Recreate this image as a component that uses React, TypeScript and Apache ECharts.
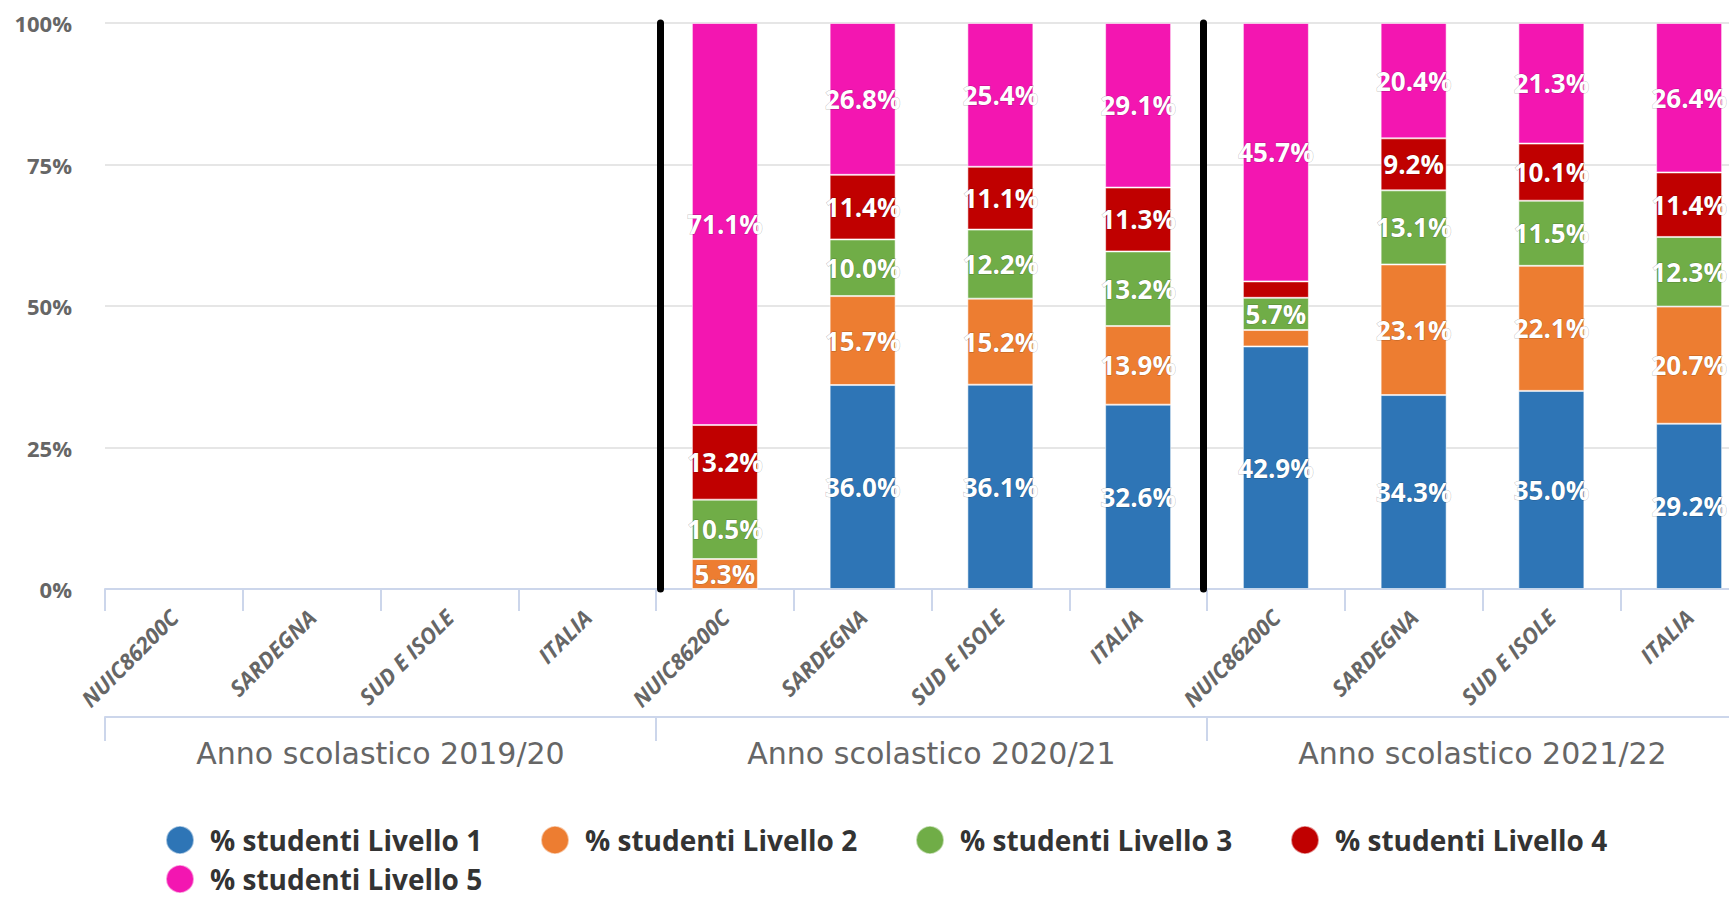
import React, { useEffect, useRef } from "react";
import * as echarts from "echarts";

const years = ["Anno scolastico 2019/20", "Anno scolastico 2020/21", "Anno scolastico 2021/22"];
const places = ["NUIC86200C", "SARDEGNA", "SUD E ISOLE", "ITALIA"];
const seriesNames = [
  "% studenti Livello 1",
  "% studenti Livello 2",
  "% studenti Livello 3",
  "% studenti Livello 4",
  "% studenti Livello 5",
];
const seriesColors = ["#2e75b6", "#ed7d31", "#70ad47", "#c00000", "#f316b1"];

const level1 = [null, null, null, null, 0, 36.0, 36.1, 32.6, 42.9, 34.3, 35.0, 29.2];
const level2 = [null, null, null, null, 5.3, 15.7, 15.2, 13.9, 2.9, 23.1, 22.1, 20.7];
const level3 = [null, null, null, null, 10.5, 10.0, 12.2, 13.2, 5.7, 13.1, 11.5, 12.3];
const level4 = [null, null, null, null, 13.2, 11.4, 11.1, 11.3, 2.9, 9.2, 10.1, 11.4];
const level5 = [null, null, null, null, 71.1, 26.8, 25.4, 29.1, 45.7, 20.4, 21.3, 26.4];

const yTicks = [0, 25, 50, 75, 100];
// separators drawn between school years (in category units)
const separators = [4.03, 7.97];

const levels = [level1, level2, level3, level4, level5];
const xCategories = years.flatMap(() => places);

export default function App() {
  const ref = useRef<HTMLDivElement>(null);

  useEffect(() => {
    if (!ref.current) return;
    const chart = echarts.init(ref.current, null, { renderer: "svg" });

    const totals = xCategories.map((_, i) =>
      levels.reduce((s, arr) => s + (arr[i] == null ? 0 : (arr[i] as number)), 0)
    );

    const barSeries = levels.map((arr, k) => ({
      name: seriesNames[k],
      type: "bar",
      stack: "total",
      xAxisIndex: 0,
      yAxisIndex: 0,
      barWidth: 66,
      itemStyle: { color: seriesColors[k], borderColor: "rgba(255,255,255,0.55)", borderWidth: 1 },
      label: {
        show: true,
        position: "inside",
        color: "#ffffff",
        fontFamily: "Open Sans",
        fontWeight: "bold",
        fontSize: 26,
        textBorderColor: "rgba(0,0,0,0.25)",
        textBorderWidth: 1,
        formatter: (p: any) =>
          p.data && p.data.raw != null && p.data.raw > 4 ? p.data.raw.toFixed(1) + "%" : "",
      },
      data: arr.map((v, i) =>
        v == null ? { value: null, raw: null } : { value: totals[i] ? (v / totals[i]) * 100 : 0, raw: v }
      ),
    }));

    const option: any = {
      animation: false,
      grid: { left: 105, top: 23, width: 1653, height: 566 },
      legend: {
        data: seriesNames,
        left: 160,
        top: 820,
        width: 1520,
        orient: "horizontal",
        icon: "circle",
        itemWidth: 28,
        itemHeight: 28,
        itemGap: 9,
        textStyle: {
          fontFamily: "Open Sans",
          fontWeight: "bold",
          fontSize: 28,
          color: "#333333",
          width: 321,
          lineHeight: 28,
          padding: [0, 0, 0, 11],
        },
      },
      xAxis: [
        {
          type: "category",
          data: xCategories,
          position: "bottom",
          axisLine: { show: true, lineStyle: { color: "#ccd6eb", width: 2 } },
          axisTick: { show: true, length: 22, lineStyle: { color: "#ccd6eb", width: 2 } },
          axisLabel: {
            interval: 0,
            rotate: 45,
            margin: 24,
            color: "#666666",
            fontFamily: "Open Sans",
            fontWeight: "bold",
            fontStyle: "italic",
            fontSize: 22,
          },
          splitLine: { show: false },
        },
        {
          type: "category",
          data: years,
          position: "bottom",
          offset: 128,
          axisLine: { show: true, lineStyle: { color: "#ccd6eb", width: 2 } },
          axisTick: { show: true, length: 24, lineStyle: { color: "#ccd6eb", width: 2 } },
          axisLabel: {
            interval: 0,
            margin: 21,
            color: "#666666",
            fontFamily: "DejaVu Sans",
            fontSize: 30,
          },
        },
        {
          type: "value",
          min: 0,
          max: 12,
          show: false,
        },
      ],
      yAxis: {
        type: "value",
        min: yTicks[0],
        max: yTicks[yTicks.length - 1],
        interval: 25,
        axisLine: { show: false },
        axisTick: { show: false },
        axisLabel: {
          formatter: "{value}%",
          margin: 33,
          color: "#666666",
          fontFamily: "Open Sans",
          fontWeight: "bold",
          fontSize: 22,
        },
        splitLine: { show: true, lineStyle: { color: "#e6e6e6", width: 2 } },
      },
      series: [
        ...barSeries,
        {
          name: "separators",
          type: "scatter",
          xAxisIndex: 2,
          yAxisIndex: 0,
          data: [],
          silent: true,
          markLine: {
            silent: true,
            symbol: "none",
            label: { show: false },
            lineStyle: { color: "#000000", width: 7, type: "solid", cap: "round" },
            data: separators.map((x) => ({ xAxis: x })),
          },
        },
      ],
    };

    chart.setOption(option);
    return () => chart.dispose();
  }, []);

  return (
    <div style={{ position: "fixed", left: 0, top: 0, width: 1729, height: 897, overflow: "hidden", background: "#fff" }}>
      <div ref={ref} style={{ width: 1760, height: 897 }} />
    </div>
  );
}
